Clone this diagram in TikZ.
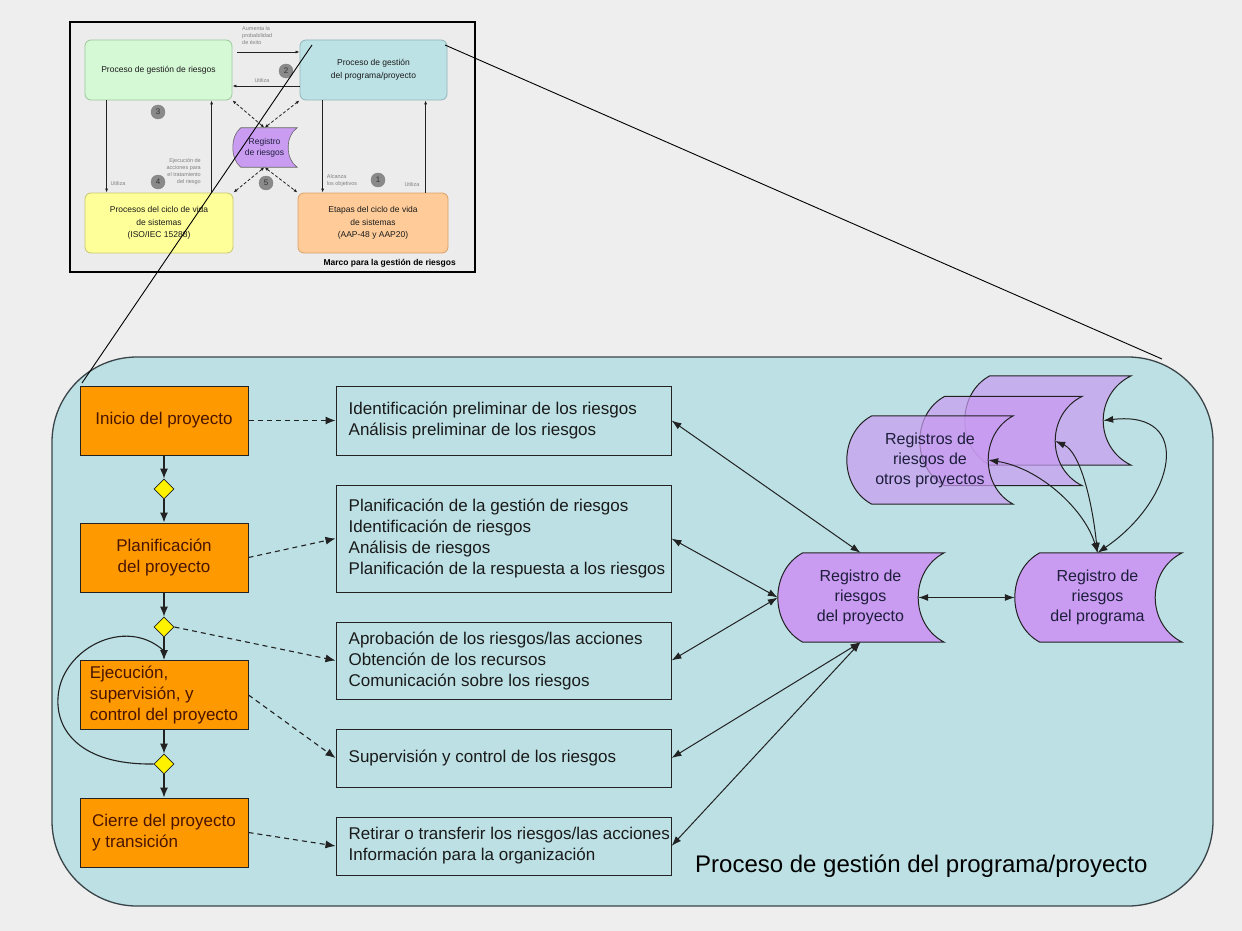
\documentclass[tikz,border=0pt]{standalone}
\usepackage{fontspec}
\setmainfont{Liberation Sans}
\usetikzlibrary{shapes.geometric,arrows.meta,calc}
\definecolor{bgc}{HTML}{EEEEEE}
\definecolor{insetfill}{HTML}{ECECEC}
\definecolor{framefill}{HTML}{BCE0E4}
\definecolor{framedraw}{HTML}{3A4448}
\definecolor{phasefill}{HTML}{FF9900}
\definecolor{phasetext}{HTML}{4A1500}
\definecolor{regfill}{HTML}{C99CF2}
\definecolor{regtext}{HTML}{1E1E3C}
\definecolor{linec}{HTML}{222222}
\definecolor{txtc}{HTML}{1A1A1A}
\definecolor{gfill}{HTML}{D5F8D5}
\definecolor{gdraw}{HTML}{9BC89B}
\definecolor{bfill}{HTML}{BDE2E6}
\definecolor{bdraw}{HTML}{8FB5B8}
\definecolor{yfill}{HTML}{FFFF99}
\definecolor{ydraw}{HTML}{C8C870}
\definecolor{ofill}{HTML}{FFCC99}
\definecolor{odraw}{HTML}{D9A066}
\definecolor{smallc}{HTML}{808080}
\definecolor{numfill}{HTML}{8A8A8A}
\newcommand\regdraw[4]{%
  \path[#4] (#1.north west) -- ($(#1.north east)+(#3,0)$)
    .. controls ($(#1.north east)!0.2!(#1.south east)+(-#3/3,0)$) and ($(#1.north east)!0.8!(#1.south east)+(-#3/3,0)$) .. ($(#1.south east)+(#3,0)$)
    -- (#1.south west)
    .. controls ($(#1.north west)!0.8!(#1.south west)+(-4*#2/3,0)$) and ($(#1.north west)!0.2!(#1.south west)+(-4*#2/3,0)$) .. (#1.north west) -- cycle;}
\begin{document}
\begin{tikzpicture}[x=1pt,y=-1pt,
  phase/.style={draw=linec, line width=1pt, fill=phasefill, text=phasetext, minimum width=168pt, minimum height=69pt, inner sep=0pt, font=\fontsize{17}{21}\selectfont},
  gate/.style={diamond, draw=linec, fill=yellow, minimum width=20pt, minimum height=20pt, inner sep=0pt, line width=0.8pt},
  taskbox/.style={draw=linec, line width=1pt, minimum width=335pt, inner sep=0pt},
  tasktxt/.style={anchor=west, align=left, inner sep=0pt, font=\fontsize{17}{21}\selectfont, text=txtc},
  regnode/.style={inner sep=0pt, minimum width=115pt, minimum height=89pt},
  regtxt/.style={inner sep=0pt, align=center, font=\fontsize{16}{20}\selectfont, text=regtext},
  flow/.style={draw=linec, line width=1.1pt, -{Latex[length=10pt,width=8pt]}},
  dflow/.style={flow, dash pattern=on 5pt off 4pt},
  link/.style={draw=linec, line width=1pt, {Latex[length=10pt,width=7pt]}-{Latex[length=10pt,width=7pt]}},
  ibox/.style={rounded corners=6pt, line width=0.8pt, minimum width=148pt, minimum height=60pt, inner sep=0pt, align=center, font=\fontsize{8.5}{12.5}\selectfont, text=txtc},
  iflow/.style={draw=linec, line width=0.7pt, -{Latex[length=4pt,width=3pt]}},
  idash/.style={draw=linec, line width=0.8pt, dash pattern=on 3pt off 2pt, {Latex[length=4pt,width=3pt]}-{Latex[length=4pt,width=3pt]}},
  ismall/.style={inner sep=0pt, font=\fontsize{5.5}{7}\selectfont, text=smallc},
  inum/.style={circle, fill=numfill, draw=smallc, minimum size=14pt, inner sep=0pt, font=\fontsize{8}{8}\selectfont, text=black!80},
  zoomline/.style={draw=black, line width=0.9pt}
]
\fill[bgc] (0,0) rectangle (1242,931);
\useasboundingbox (0,0) rectangle (1242,931);

% ---------------- big frame ----------------
\node[draw=framedraw, line width=1.3pt, fill=framefill, rounded corners=85pt, minimum width=1161pt, minimum height=549pt, inner sep=0pt] (frame) at (632.5,631.5) {};
\node[anchor=base west, inner sep=0pt, font=\fontsize{24}{28}\selectfont, text=black] (framelabel) at (695,872) {Proceso de gestión del programa/proyecto};

% phases
\node[phase] (inicio) at (164,420.5) {Inicio del proyecto};
\node[phase, align=center] (plan) at (164,557.5) {Planificación\\del proyecto};
\node[phase, align=left] (ejec) at (164,695) {Ejecución,\\supervisión, y\\control del proyecto};
\node[phase, align=left] (cierre) at (164,832.5) {Cierre del proyecto\\y transición};
\node[gate] (d1) at (164,489) {};
\node[gate] (d2) at (164,627) {};
\node[gate] (d3) at (164,764) {};

\draw[flow] (inicio.south) -- (d1.north);
\draw[flow] (d1.south) -- (plan.north);
\draw[flow] (plan.south) -- (d2.north);
\draw[flow] (d2.south) -- (ejec.north);
\draw[flow] (ejec.south) -- (d3.north);
\draw[flow] (d3.south) -- (cierre.north);
\coordinate (loopend) at ($(d2.south)!0.6!(ejec.north)$);
\draw[draw=linec, line width=1.1pt] (d3.west) .. controls (80,765) and (56,730) .. (58,698) .. controls (60,650) and (125,615) .. (loopend);

% task boxes
\node[taskbox, minimum height=69pt] (box1) at (503.5,420.5) {};
\node[taskbox, minimum height=107pt] (box2) at (503.5,538.5) {};
\node[taskbox, minimum height=77pt] (box3) at (503.5,660.5) {};
\node[taskbox, minimum height=58pt] (box4) at (503.5,758) {};
\node[taskbox, minimum height=58pt] (box5) at (503.5,846) {};
\node[tasktxt] (t1) at ($(box1.west)+(13,0)$) {Identificación preliminar de los riesgos\\Análisis preliminar de los riesgos};
\node[tasktxt] (t2) at ($(box2.west)+(13,0)$) {Planificación de la gestión de riesgos\\Identificación de riesgos\\Análisis de riesgos\\Planificación de la respuesta a los riesgos};
\node[tasktxt] (t3) at ($(box3.west)+(13,0)$) {Aprobación de los riesgos/las acciones\\Obtención de los recursos\\Comunicación sobre los riesgos};
\node[tasktxt] (t4) at ($(box4.west)+(13,0)$) {Supervisión y control de los riesgos};
\node[tasktxt] (t5) at ($(box5.west)+(13,0)$) {Retirar o transferir los riesgos/las acciones\\Información para la organización};

\draw[dflow] (inicio.east) -- (box1.west);
\draw[dflow] (plan.east) -- (box2.west);
\draw[dflow] (d2.east) -- (box3.west);
\draw[dflow] (ejec.east) -- (box4.west);
\draw[dflow] (cierre.east) -- (box5.west);

% registers: other projects (stacked)
\node[regnode, minimum width=113pt] (oback) at (1046.5,420.5) {};
\regdraw{oback}{25}{28}{draw=linec, line width=1pt, fill=regfill, fill opacity=0.7}
\node[regnode, minimum width=110pt] (omid) at (1000,441) {};
\regdraw{omid}{25}{27}{draw=linec, line width=1pt, fill=regfill, fill opacity=0.7}
\node[regnode, minimum width=116pt, minimum height=88pt] (ofront) at (930,460) {};
\regdraw{ofront}{25}{25}{draw=linec, line width=1pt, fill=regfill, fill opacity=0.7}
\node[regtxt] (ofrontt) at (ofront.center) {Registros de\\riesgos de\\otros proyectos};

% project and programme registers
\node[regnode] (proj) at (860.5,597.5) {};
\regdraw{proj}{25}{26}{draw=linec, line width=1pt, fill=regfill}
\node[regtxt] (projt) at (proj.center) {Registro de\\riesgos\\del proyecto};
\node[regnode] (prog) at (1097.5,597.5) {};
\regdraw{prog}{25}{27}{draw=linec, line width=1pt, fill=regfill}
\node[regtxt] (progt) at (prog.center) {Registro de\\riesgos\\del programa};
\coordinate (projL) at ($(proj.west)+(-25,0)$);
\coordinate (progL) at ($(prog.west)+(-25,0)$);

\draw[link] (box1.east) -- (proj.north);
\draw[link] (box2.east) -- (projL);
\draw[link] (box3.east) -- (projL);
\draw[link] (box4.east) -- (proj.south);
\draw[link] (box5.east) -- (proj.south);
\draw[link] (proj.east) -- (progL);
\draw[link] (prog.north) .. controls (1085,510) and (1040,468) .. (ofront.east);
\draw[link] (prog.north) .. controls (1092,500) and (1080,452) .. (omid.east);
\draw[link] (prog.north) .. controls (1175,500) and (1195,410) .. (oback.east);

% ---------------- inset ----------------
\node[draw=black, line width=1.2pt, fill=insetfill, minimum width=405pt, minimum height=250pt, inner sep=0pt] (inset) at (272.5,147) {};
\node[ibox, draw=gdraw, fill=gfill, minimum width=147pt] (green) at (158.5,70) {Proceso de gestión de riesgos};
\node[ibox, draw=bdraw, fill=bfill, minimum width=147pt] (blue) at (373.5,70) {Proceso de gestión\\del programa/proyecto};
\node[ibox, draw=ydraw, fill=yfill] (yel) at (159,223) {Procesos del ciclo de vida\\de sistemas\\(ISO/IEC 15288)};
\node[ibox, draw=odraw, fill=ofill, minimum width=150pt] (ora) at (373,223) {Etapas del ciclo de vida\\de sistemas\\(AAP-48 y AAP20)};
\node[anchor=east, inner sep=0pt, font=\bfseries\fontsize{8.5}{10}\selectfont, text=black] (marco) at (456,263) {Marco para la gestión de riesgos};

\node[inner sep=0pt, minimum width=47pt, minimum height=39pt] (ireg) at (264.5,147.5) {};
\regdraw{ireg}{8}{9}{draw=black!60, line width=0.6pt, fill=regfill}
\node[inner sep=0pt, align=center, font=\fontsize{8.5}{11}\selectfont, text=regtext] (iregt) at (ireg.center) {Registro\\de riesgos};

\draw[iflow] ($(green.east)+(5,-18)$) -- ($(blue.west)+(0,-18)$);
\draw[iflow] ($(blue.west)+(0,16)$) -- ($(green.east)+(0,16)$);
\draw[iflow] ($(green.south west)+(22,0)$) -- ($(yel.north west)+(22,0)$);
\draw[iflow] ($(yel.north west)+(127,0)$) -- ($(green.south west)+(127,0)$);
\draw[iflow] ($(blue.south west)+(23,0)$) -- ($(ora.north west)+(25,0)$);
\draw[iflow] ($(ora.north west)+(128,0)$) -- ($(blue.south west)+(126,0)$);
\draw[idash] (ireg.north) -- (green.south east);
\draw[idash] (ireg.north) -- (blue.south west);
\draw[idash] (ireg.south) -- (yel.north east);
\draw[idash] (ireg.south) -- (ora.north west);

\node[ismall, anchor=north west, align=left] (lab1) at (242,26) {Aumenta la\\probabilidad\\de éxito};
\node[ismall] (lab2) at (262,81) {Utiliza};
\node[ismall, anchor=east, align=right] (lab3) at (201,172) {Ejecución de\\acciones para\\el tratamiento\\del riesgo};
\node[ismall] (lab4) at (118,184) {Utiliza};
\node[ismall, align=left] (lab5) at (342,181) {Alcanza\\los objetivos};
\node[ismall] (lab6) at (412,185) {Utiliza};
\node[inum] (n2) at (286,71) {2};
\node[inum] (n3) at (158,112) {3};
\node[inum] (n4) at (158,182) {4};
\node[inum] (n5) at (266,183) {5};
\node[inum] (n1) at (378,180) {1};

% zoom lines
\coordinate (zA1) at (312,45);
\coordinate (zA2) at (82,383);
\coordinate (zB1) at (445,45);
\coordinate (zB2) at (1162,359);
\draw[zoomline] (zA1) -- (zA2);
\draw[zoomline] (zB1) -- (zB2);
\end{tikzpicture}
\end{document}
